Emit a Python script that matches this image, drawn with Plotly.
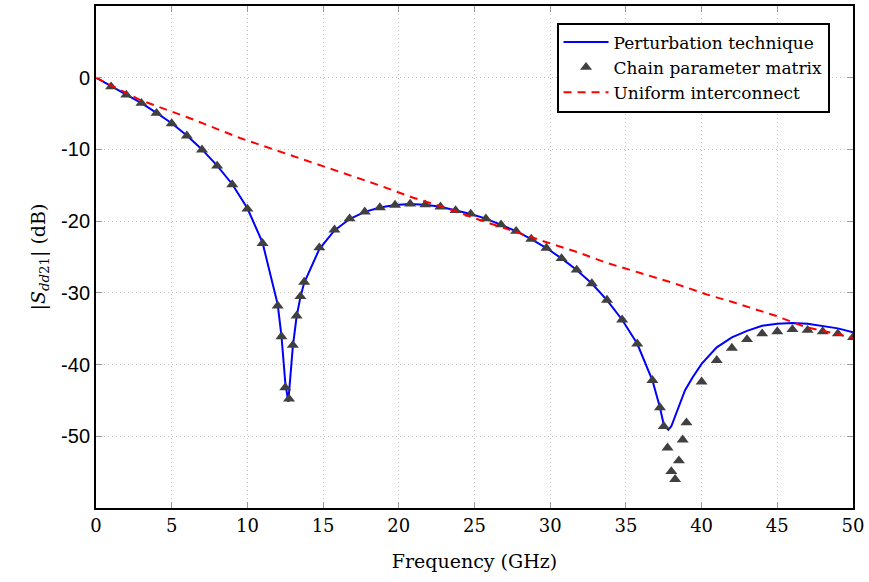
import plotly.graph_objects as go

# Perturbation technique (solid blue curve)
pert_f = [0, 1, 2, 3, 4, 5, 6, 7, 8, 9, 10, 11, 12, 12.25, 12.5, 12.7, 13.0, 13.25, 13.5, 13.75,
          14.75, 15.75, 16.75, 17.75, 18.75, 19.75, 20.75, 21.75, 22.75, 23.75, 24.75, 25.75,
          26.75, 27.75, 28.75, 29.75, 30.75, 31.75, 32.75, 33.75, 34.75, 35.75, 36.75, 37.25,
          37.5, 37.8, 38.0, 38.3, 38.9, 39.4, 40, 41, 42, 43, 44, 45, 46, 47, 48, 49, 50]
pert_db = [0, -1.2, -2.4, -3.55, -4.9, -6.35, -8.05, -10.0, -12.25, -14.85, -18.2, -23.0, -31.6,
           -36.0, -42.5, -45.2, -37.5, -33.3, -30.6, -28.6,
           -23.9, -21.3, -19.7, -18.7, -18.1, -17.75, -17.6, -17.7, -18.0, -18.5, -19.0, -19.65,
           -20.5, -21.4, -22.5, -23.75, -25.2, -26.8, -28.7, -31.0, -33.75, -37.1, -42.2, -46.0,
           -48.4, -49.1, -48.6, -46.9, -43.6, -41.8, -39.9, -37.6, -36.2, -35.3, -34.6, -34.3,
           -34.2, -34.3, -34.6, -34.95, -35.5]

# Chain parameter matrix (triangle markers)
chain_f = [1, 2, 3, 4, 5, 6, 7, 8, 9, 10, 11, 12, 12.25, 12.5, 12.75, 13.0, 13.25, 13.5, 13.75,
           14.75, 15.75, 16.75, 17.75, 18.75, 19.75, 20.75, 21.75, 22.75, 23.75, 24.75, 25.75,
           26.75, 27.75, 28.75, 29.75, 30.75, 31.75, 32.75, 33.75, 34.75, 35.75, 36.75,
           37.25, 37.5, 37.75, 38.0, 38.25, 38.5, 38.75, 39.0,
           40, 41, 42, 43, 44, 45, 46, 47, 48, 49, 50]
chain_db = [-1.25, -2.4, -3.56, -4.95, -6.4, -8.1, -10.05, -12.3, -14.9, -18.3, -23.1, -31.8,
            -36.1, -43.2, -44.8, -37.3, -33.2, -30.5, -28.5,
            -23.7, -21.2, -19.65, -18.7, -18.1, -17.75, -17.6, -17.7, -18.0, -18.5, -19.0, -19.65,
            -20.5, -21.4, -22.5, -23.75, -25.2, -26.8, -28.7, -31.0, -33.75, -37.1, -42.2,
            -46.0, -48.6, -51.6, -54.9, -56.0, -53.4, -50.5, -48.1,
            -42.4, -39.4, -37.7, -36.5, -35.7, -35.4, -35.1, -35.2, -35.4, -35.7, -36.2]

# Uniform interconnect (dashed red)
unif_f = [0, 2.9, 6.2, 9.5, 12.7, 18.7, 20.9, 23.1, 25.3, 27.5, 29.7, 31.9, 33.7, 35.9, 38.1,
          40.3, 42.15, 44.9, 46.9, 48.9, 50]
unif_db = [0, -3.1, -5.65, -8.4, -10.7, -15.0, -16.7, -18.15, -19.8, -21.4, -22.9, -24.4, -25.8,
           -27.2, -28.6, -30.2, -31.35, -33.2, -34.8, -35.7, -36.3]

x_ticks = [0, 5, 10, 15, 20, 25, 30, 35, 40, 45, 50]
y_ticks = [0, -10, -20, -30, -40, -50]

serif = "DejaVu Serif"

fig = go.Figure()
fig.add_trace(go.Scatter(x=pert_f, y=pert_db, mode="lines", name="Perturbation technique",
                         line=dict(color="#0000ff", width=2)))
fig.add_trace(go.Scatter(x=chain_f, y=chain_db, mode="markers", name="Chain parameter matrix",
                         marker=dict(symbol="triangle-up", color="#404040", size=10.5,
                                     line=dict(width=0))))
fig.add_trace(go.Scatter(x=unif_f, y=unif_db, mode="lines", name="Uniform interconnect",
                         line=dict(color="#ff0000", width=2, dash="8px,6px")))

fig.update_layout(
    width=869, height=582,
    margin=dict(l=96, r=16, t=4, b=74),
    plot_bgcolor="white", paper_bgcolor="white",
    font=dict(family=serif, size=17, color="black"),
    showlegend=True,
    legend=dict(x=0.969, y=0.967, xanchor="right", yanchor="top",
                bgcolor="white", bordercolor="black", borderwidth=2,
                font=dict(family=serif, size=17), tracegroupgap=0,
                itemwidth=45),
    xaxis=dict(range=[0, 50], tickvals=x_ticks, ticktext=[str(v) for v in x_ticks],
               showline=True, linecolor="black", linewidth=2, mirror="ticks",
               ticks="inside", ticklen=6, tickcolor="#999999", tickwidth=1,
               showgrid=True, gridcolor="#c4c4c4", griddash="1px,3px", gridwidth=1,
               zeroline=False, tickfont=dict(family=serif, size=18),
               title=dict(text="Frequency (GHz)", font=dict(family=serif, size=19), standoff=20)),
    yaxis=dict(range=[-60, 10], tickvals=y_ticks, ticktext=[str(v) for v in y_ticks],
               showline=True, linecolor="black", linewidth=2, mirror="ticks",
               ticks="inside", ticklen=6, tickcolor="#999999", tickwidth=1,
               showgrid=True, gridcolor="#c4c4c4", griddash="1px,3px", gridwidth=1,
               zeroline=False, tickfont=dict(family="Liberation Sans", size=20),
               title=dict(text="|<i>S</i><sub><i>dd</i>21</sub>| (dB)",
                          font=dict(family=serif, size=19), standoff=10)),
)

fig.write_html("out.html")
